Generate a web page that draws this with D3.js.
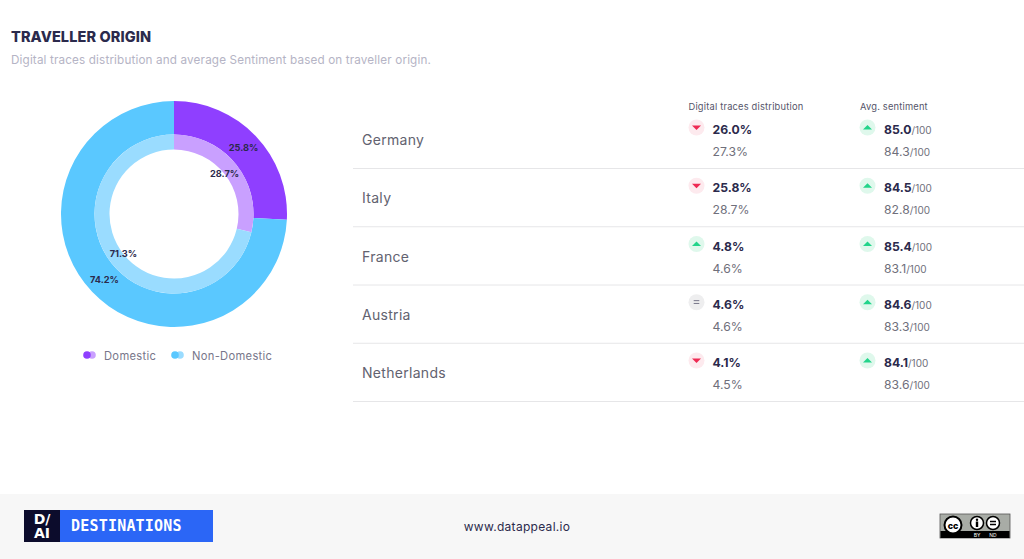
<!DOCTYPE html>
<html><head><meta charset="utf-8">
<script src="https://cdn.jsdelivr.net/npm/d3@7"></script>
<style>html,body{margin:0;padding:0;background:#fff;overflow:hidden}svg{display:block}text{font-family:Inter,Roboto,sans-serif}</style>
</head><body><svg id="c" width="1024" height="559"></svg>
<script>
const originLabels=["Domestic","Non-Domestic"];
const outerValues=[25.8,74.2];
const innerValues=[28.7,71.3];
const outerColors=["#8f3fff","#5ac8ff"];
const innerColors=["#c9a0ff","#9adcff"];
const countries=["Germany","Italy","France","Austria","Netherlands"];
const traces=[26.0,25.8,4.8,4.6,4.1];
const tracesPrev=[27.3,28.7,4.6,4.6,4.5];
const sentiment=[85.0,84.5,85.4,84.6,84.1];
const sentimentPrev=[84.3,82.8,83.1,83.3,83.6];
const tracesTrend=["down","down","up","same","down"];
const sentimentTrend=["up","up","up","up","up"];
const headers=["Digital traces distribution","Avg. sentiment"];

const svg=d3.select("#c");
const ink="#2b2a4c",grey="#6f6f7b";
const txt=(g,x,y,s,size,fill,w,anchor,ls)=>g.append("text").attr("x",x).attr("y",y).text(s)
  .attr("font-size",size).attr("fill",fill).attr("font-weight",w||400).attr("text-anchor",anchor||"start")
  .attr("letter-spacing",ls||0);

txt(svg,11,42,"TRAVELLER ORIGIN",14.5,ink,800,"start",0.1);
txt(svg,11,64,"Digital traces distribution and average Sentiment based on traveller origin.",11.7,"#b5b4c5",400,"start",0.15);

// donuts
const donut=svg.append("g").attr("transform","translate(174,214)");
const pie=d3.pie().sort(null).value(d=>d);
const ring=(vals,cols,r0,r1)=>{
  const arc=d3.arc().innerRadius(r0).outerRadius(r1);
  donut.append("g").selectAll("path").data(pie(vals)).join("path").attr("d",arc).attr("fill",(d,i)=>cols[i]);
};
ring(outerValues,outerColors,79.5,113);
ring(innerValues,innerColors,64.5,79.5);
const labelArc=(vals,r)=>{
  const arc=d3.arc().innerRadius(r).outerRadius(r);
  donut.append("g").selectAll("text").data(pie(vals)).join("text")
   .attr("transform",d=>`translate(${arc.centroid(d)})`).attr("dy",3.2)
   .attr("text-anchor","middle").attr("font-size",9.2).attr("font-weight",700).attr("fill",ink)
   .text(d=>d3.format(".1f")(d.data)+"%");
};
labelArc(outerValues,96);
labelArc(innerValues,64.5);

// legend
const legend=svg.append("g");
const lx=[83,171];
originLabels.forEach((l,i)=>{
  legend.append("circle").attr("cx",lx[i]+4).attr("cy",355).attr("r",3.8).attr("fill",innerColors[i]).attr("transform","translate(5,0)");
  legend.append("circle").attr("cx",lx[i]+4).attr("cy",355).attr("r",3.8).attr("fill",outerColors[i]);
  txt(legend,lx[i]+21,359.5,l,11.2,"#77768a",400,"start",0.3);
});

// table
const rowY=d3.scalePoint().domain(countries).range([140,373]);
const table=svg.append("g");
txt(table,688.5,109.5,headers[0],9.3,"#55556a",400,"start",0.2);
txt(table,860,109.5,headers[1],9.3,"#55556a",400,"start",0.2);
const badge=(g,x,y,t)=>{
  const fill={up:"#dff8ec",down:"#fdeaee",same:"#eeeeef"}[t];
  g.append("circle").attr("cx",x).attr("cy",y).attr("r",8).attr("fill",fill);
  if(t==="up") g.append("path").attr("d",`M${x-4.5},${y+2}L${x},${y-2.5}L${x+4.5},${y+2}Z`).attr("fill","#22d48a");
  if(t==="down") g.append("path").attr("d",`M${x-4.5},${y-2}L${x+4.5},${y-2}L${x},${y+2.5}Z`).attr("fill","#ee2a53");
  if(t==="same") g.append("path").attr("d",`M${x-2.8},${y-1.6}H${x+2.8}M${x-2.8},${y+1.2}H${x+2.8}`).attr("stroke","#77768a").attr("stroke-width",1).attr("fill","none");
};
countries.forEach((c,i)=>{
  const y=rowY(c);
  const g=table.append("g");
  txt(g,362,y+5,c,14,"#62626f",400,"start",0.3);
  badge(g,696.5,y-12.5,tracesTrend[i]);
  txt(g,712.5,y-6,d3.format(".1f")(traces[i])+"%",12.2,ink,700);
  txt(g,712.5,y+16,d3.format(".1f")(tracesPrev[i])+"%",12.2,grey,400);
  badge(g,867.5,y-12.5,sentimentTrend[i]);
  let t=txt(g,884,y-6,d3.format(".1f")(sentiment[i]),12.2,ink,700);
  t.append("tspan").text("/100").attr("font-size",10).attr("font-weight",400).attr("fill",grey);
  t=txt(g,884,y+16,d3.format(".1f")(sentimentPrev[i]),12.2,grey,400);
  t.append("tspan").text("/100").attr("font-size",10).attr("fill",grey);
  g.append("line").attr("x1",353).attr("x2",1024).attr("y1",y+28.5).attr("y2",y+28.5).attr("stroke","#e6e6e8").attr("stroke-width",1);
});

// footer
const f=svg.append("g");
f.append("rect").attr("x",0).attr("y",494).attr("width",1024).attr("height",65).attr("fill","#f7f7f7");
f.append("rect").attr("x",24).attr("y",510).attr("width",189).attr("height",32).attr("fill","#2b66f6");
f.append("rect").attr("x",24).attr("y",510).attr("width",36).attr("height",32).attr("fill","#0c0c2c");
f.append("text").attr("x",42).attr("y",524).attr("text-anchor","middle").attr("font-size",14).attr("font-weight",700).attr("fill","#fff").style("font-family","DejaVu Sans").text("D/");
f.append("text").attr("x",42).attr("y",538).attr("text-anchor","middle").attr("font-size",14).attr("font-weight",700).attr("fill","#fff").style("font-family","DejaVu Sans").text("AI");
f.append("text").attr("x",71).attr("y",531).attr("font-size",15).attr("font-weight",700).attr("fill","#fff").attr("letter-spacing",0.2).style("font-family","DejaVu Sans Mono").text("DESTINATIONS");
txt(f,517,531,"www.datappeal.io",12,"#2b2a4c",400,"middle",0.3);
// licence badge
f.append("rect").attr("x",940).attr("y",514).attr("width",70).attr("height",24).attr("fill","#a8aca6").attr("stroke","#555").attr("stroke-width",0.8);
f.append("rect").attr("x",940.5).attr("y",531).attr("width",69).attr("height",7).attr("fill","#000");
f.append("circle").attr("cx",953).attr("cy",525).attr("r",8.5).attr("fill","#fff").attr("stroke","#000").attr("stroke-width",2);
f.append("text").attr("x",953).attr("y",528.5).attr("text-anchor","middle").attr("font-size",9).attr("font-weight",800).attr("fill","#000").text("cc");
[977,993].forEach(x=>f.append("circle").attr("cx",x).attr("cy",523).attr("r",6.5).attr("fill","#fff").attr("stroke","#000").attr("stroke-width",1.5));
f.append("circle").attr("cx",977).attr("cy",519.8).attr("r",1.2).attr("fill","#000");
f.append("rect").attr("x",975.8).attr("y",521.5).attr("width",2.4).attr("height",5.5).attr("fill","#000");
f.append("path").attr("d","M990,521.5H996M990,524.5H996").attr("stroke","#000").attr("stroke-width",1.4);
f.append("text").attr("x",977).attr("y",537).attr("text-anchor","middle").attr("font-size",5).attr("fill","#fff").text("BY");
f.append("text").attr("x",993).attr("y",537).attr("text-anchor","middle").attr("font-size",5).attr("fill","#fff").text("ND");
</script></body></html>
